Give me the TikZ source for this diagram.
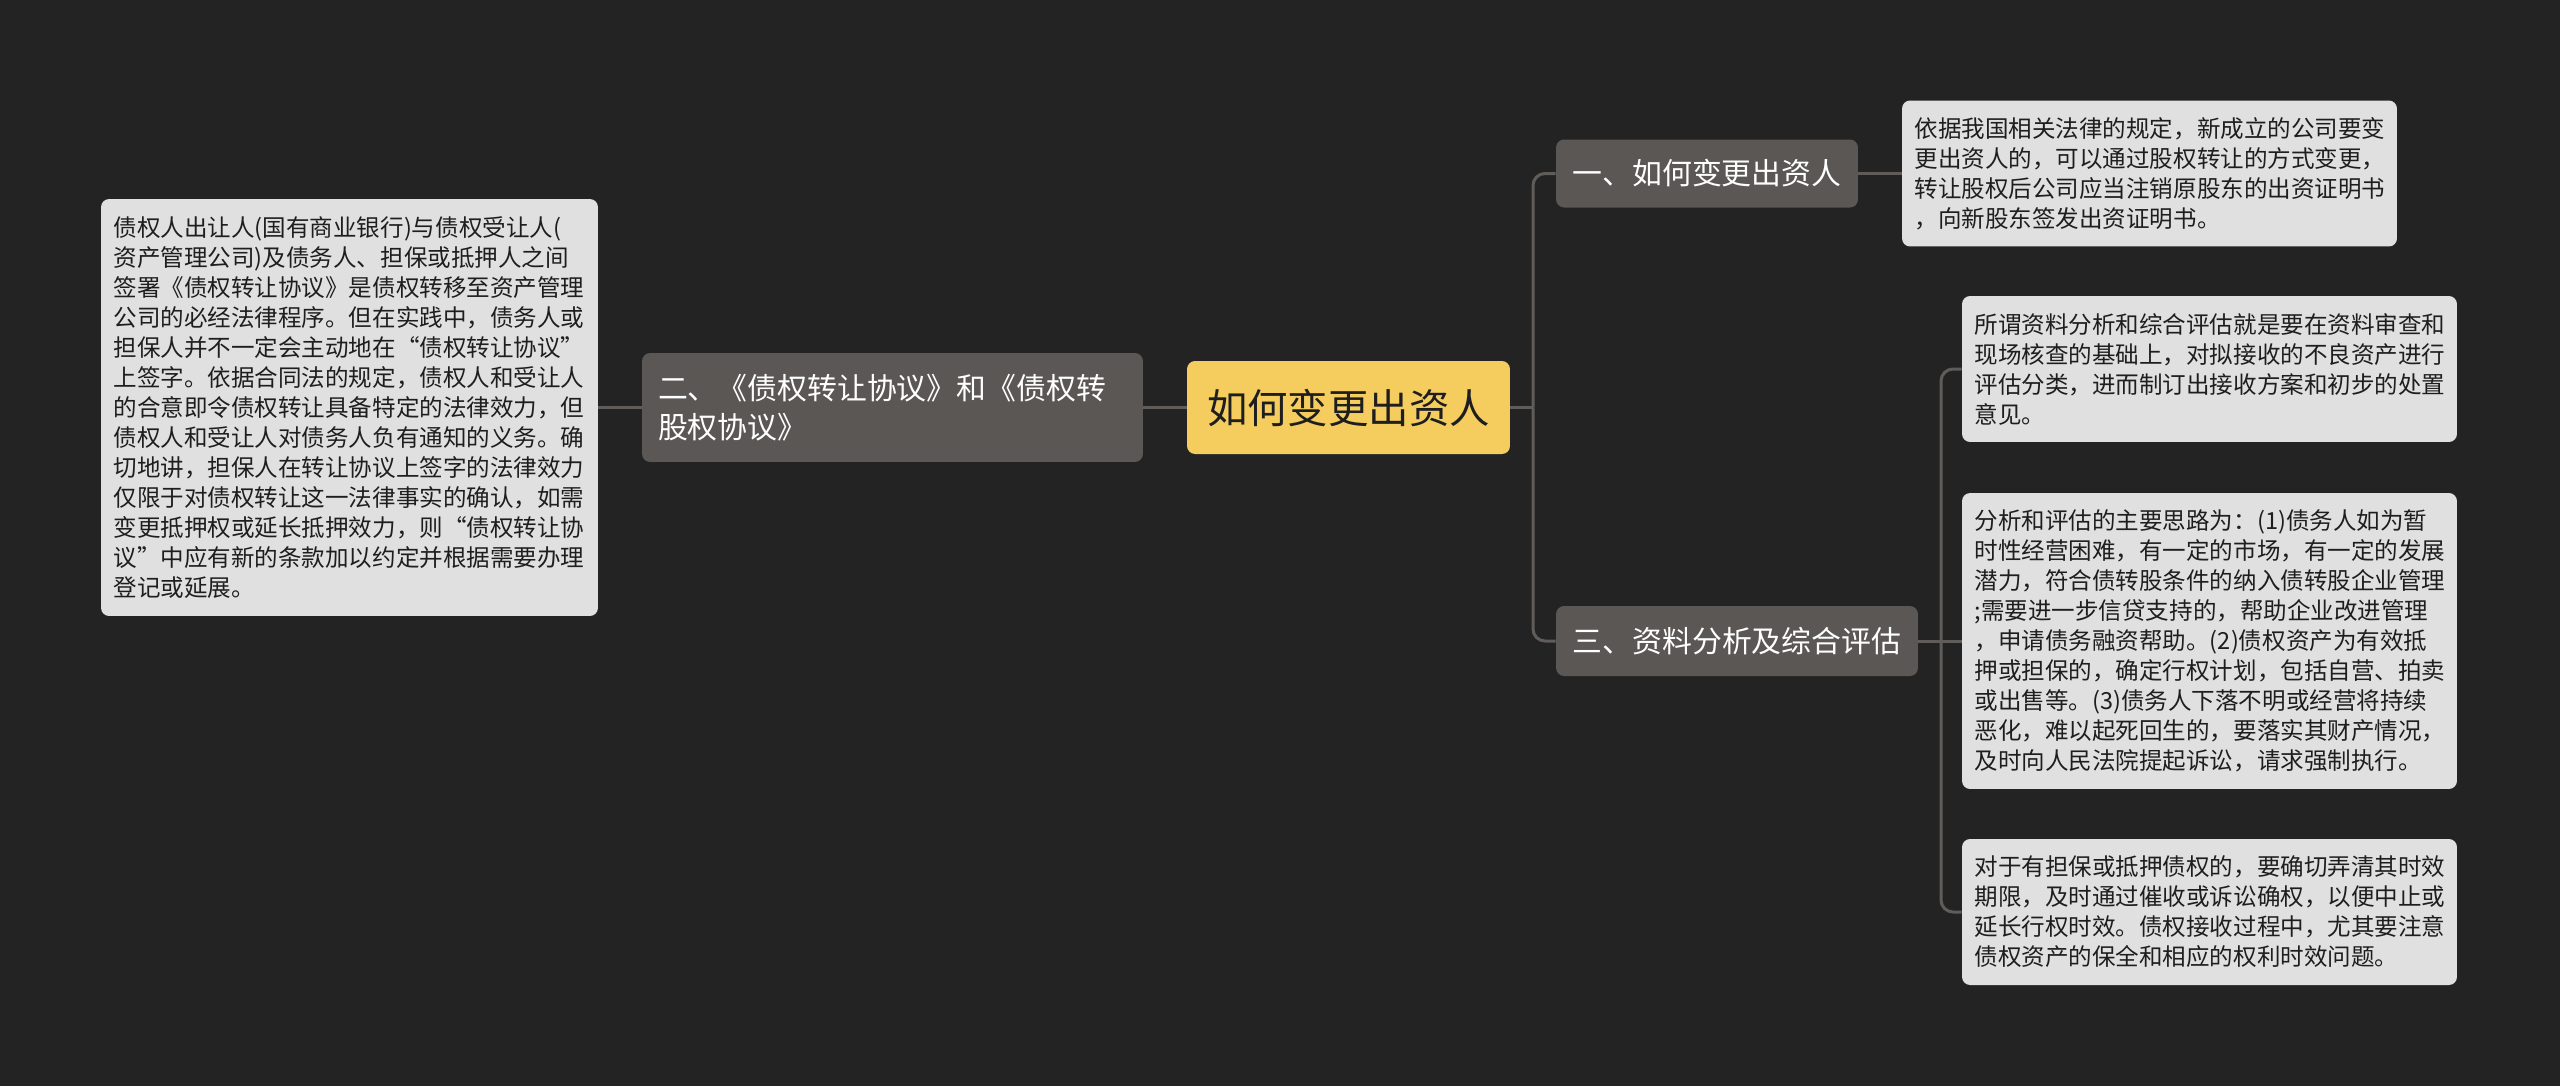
\documentclass[tikz,border=0pt]{standalone}
\usepackage{fontspec}
\setmainfont{Noto Sans CJK SC}
\usepackage{tikz}
\usetikzlibrary{positioning}
\definecolor{bgdark}{HTML}{232323}
\definecolor{rootyellow}{HTML}{F5CD5F}
\definecolor{branchgray}{HTML}{5A5754}
\definecolor{leafgray}{HTML}{E0E0E0}
\definecolor{linkgray}{HTML}{5F5C5A}
\definecolor{inkdark}{HTML}{1E1E1E}
\tikzset{
    rootnode/.style={
        rectangle, rounded corners=0.16cm, fill=rootyellow, text=inkdark,
        font=\fontsize{23}{28}\selectfont, inner sep=0pt,
        minimum width=6.46cm, minimum height=1.86cm
    },
    branchnode/.style={
        rectangle, rounded corners=0.16cm, fill=branchgray, text=white,
        font=\fontsize{17}{22.2}\selectfont, inner xsep=0.32cm, inner ysep=0pt
    },
    leafnode/.style={
        rectangle, rounded corners=0.16cm, fill=leafgray, text=inkdark,
        font=\fontsize{13.4}{17.07}\selectfont, align=left,
        text width=9.4cm, inner xsep=0.25cm, inner ysep=0pt
    },
    linkline/.style={
        draw=linkgray, line width=0.06cm, rounded corners=0.24cm
    }
}

\begin{document}
\begin{tikzpicture}[x=0.02cm, y=-0.02cm]
    \fill[bgdark] (0,0) rectangle (2560,1086);

    % centre and left side
    \node[rootnode] (root) at (1348.5,407.5) {如何变更出资人};
    \node[branchnode, align=left, text width=9.38cm, minimum height=2.18cm]
        (two) at (892.5,407.5) {二、《债权转让协议》和《债权转\\股权协议》};
    \node[leafnode, text width=9.44cm, minimum height=8.34cm] (twoleaf) at (349.5,407.5) {%
        债权人出让人(国有商业银行)与债权受让人(\\
        资产管理公司)及债务人、担保或抵押人之间\\
        签署《债权转让协议》是债权转移至资产管理\\
        公司的必经法律程序。但在实践中，债务人或\\
        担保人并不一定会主动地在“债权转让协议”\\
        上签字。依据合同法的规定，债权人和受让人\\
        的合意即令债权转让具备特定的法律效力，但\\
        债权人和受让人对债务人负有通知的义务。确\\
        切地讲，担保人在转让协议上签字的法律效力\\
        仅限于对债权转让这一法律事实的确认，如需\\
        变更抵押权或延长抵押效力，则“债权转让协\\
        议”中应有新的条款加以约定并根据需要办理\\
        登记或延展。};

    % right side
    \node[branchnode, minimum width=6.04cm, minimum height=1.36cm] (one) at (1707,173.5) {一、如何变更出资人};
    \node[leafnode, minimum height=2.92cm] (oneleaf) at (2149.5,173.5) {%
        依据我国相关法律的规定，新成立的公司要变\\
        更出资人的，可以通过股权转让的方式变更，\\
        转让股权后公司应当注销原股东的出资证明书\\
        ，向新股东签发出资证明书。};

    \node[branchnode, minimum width=7.24cm, minimum height=1.4cm] (three) at (1737,641) {三、资料分析及综合评估};
    \node[leafnode, minimum height=2.92cm] (threeleafa) at (2209.5,369) {%
        所谓资料分析和综合评估就是要在资料审查和\\
        现场核查的基础上，对拟接收的不良资产进行\\
        评估分类，进而制订出接收方案和初步的处置\\
        意见。};
    \node[leafnode, minimum height=5.92cm] (threeleafb) at (2209.5,641) {%
        分析和评估的主要思路为：(1)债务人如为暂\\
        时性经营困难，有一定的市场，有一定的发展\\
        潜力，符合债转股条件的纳入债转股企业管理\\
        ;需要进一步信贷支持的，帮助企业改进管理\\
        ，申请债务融资帮助。(2)债权资产为有效抵\\
        押或担保的，确定行权计划，包括自营、拍卖\\
        或出售等。(3)债务人下落不明或经营将持续\\
        恶化，难以起死回生的，要落实其财产情况，\\
        及时向人民法院提起诉讼，请求强制执行。};
    \node[leafnode, minimum height=2.92cm] (threeleafc) at (2209.5,912) {%
        对于有担保或抵押债权的，要确切弄清其时效\\
        期限，及时通过催收或诉讼确权，以便中止或\\
        延长行权时效。债权接收过程中，尤其要注意\\
        债权资产的保全和相应的权利时效问题。};

    % connectors
    \coordinate (rootfork) at (1533,407.5);
    \coordinate (threefork) at (1941,641);
    \draw[linkline] (twoleaf.east) -- (two.west);
    \draw[linkline] (two.east) -- (root.west);
    \draw[linkline] (root.east) -- (rootfork);
    \draw[linkline] (rootfork) |- (one.west);
    \draw[linkline] (rootfork) |- (three.west);
    \draw[linkline] (one.east) -- (oneleaf.west);
    \draw[linkline] (three.east) -- (threefork);
    \draw[linkline] (threefork) |- (threeleafa.west);
    \draw[linkline] (threefork) -- (threeleafb.west);
    \draw[linkline] (threefork) |- (threeleafc.west);
\end{tikzpicture}
\end{document}
